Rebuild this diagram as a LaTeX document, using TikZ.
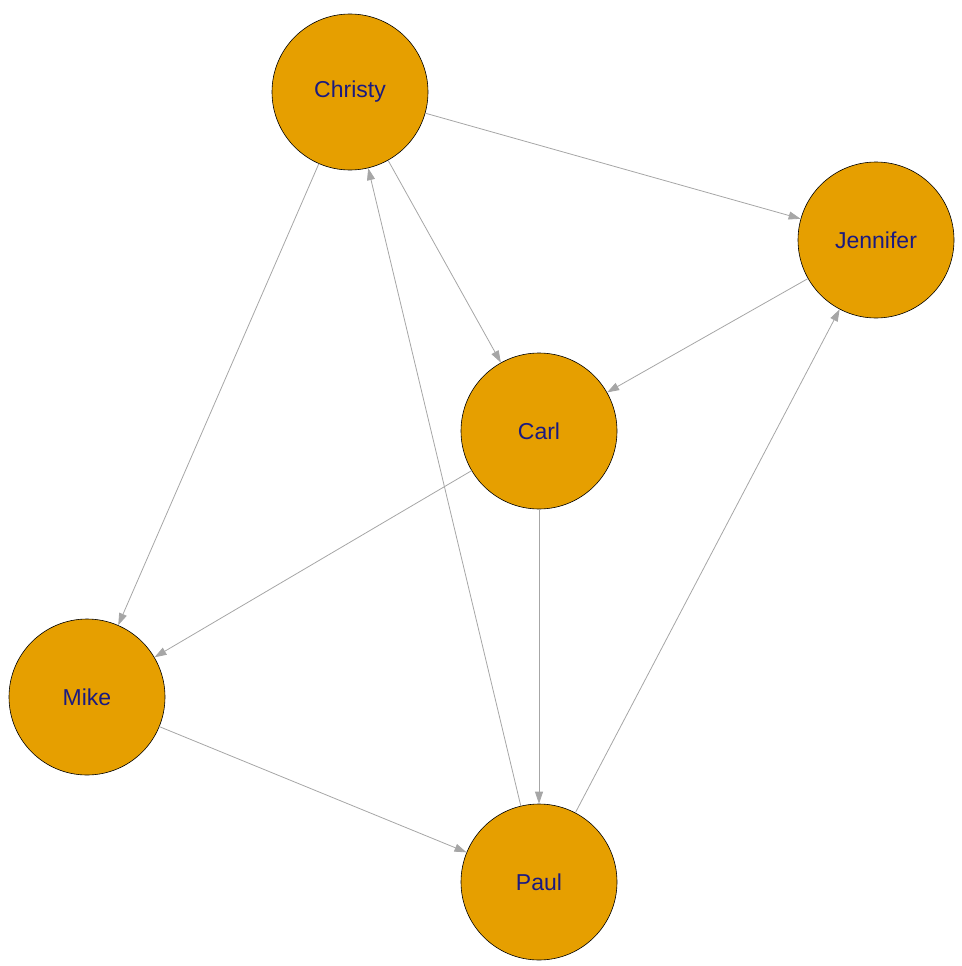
\documentclass[tikz,border=0pt]{standalone}
\usepackage{fontspec}
\setmainfont{Liberation Sans}
\usetikzlibrary{arrows.meta}
\definecolor{vertexfill}{HTML}{E69F00}
\definecolor{vertexlabel}{HTML}{1A1A80}
\definecolor{edgegray}{HTML}{A6A6A6}

\begin{document}
\begin{tikzpicture}[x=1pt, y=-1pt,
    vertex/.style={circle, draw=black, line width=0.6pt, fill=vertexfill, minimum size=156pt, inner sep=0pt,
      text=vertexlabel, font=\fontsize{23}{27}\selectfont},
    edge/.style={draw=edgegray, line width=0.8pt, -{Triangle[length=12pt, width=8pt]}}]
    \useasboundingbox (0,0) rectangle (961,966);
    % Vertices
    \node[vertex] (christy) at (350,92) {Christy};
    \node[vertex] (jennifer) at (876,240) {Jennifer};
    \node[vertex] (carl) at (539,431) {Carl};
    \node[vertex] (mike) at (87,697) {Mike};
    \node[vertex] (paul) at (539,882) {Paul};

    % Edges
    \draw[edge] (christy) -- (jennifer);
    \draw[edge] (christy) -- (carl);
    \draw[edge] (christy) -- (mike);
    \draw[edge] (paul) -- (christy);
    \draw[edge] (jennifer) -- (carl);
    \draw[edge] (carl) -- (mike);
    \draw[edge] (carl) -- (paul);
    \draw[edge] (mike) -- (paul);
    \draw[edge] (paul) -- (jennifer);
\end{tikzpicture}
\end{document}
